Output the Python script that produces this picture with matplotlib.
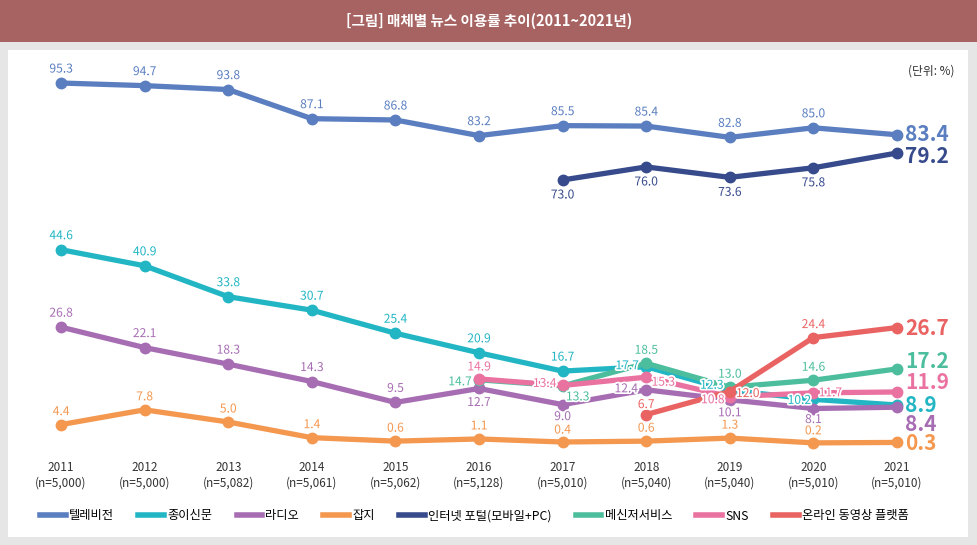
import matplotlib.pyplot as plt
import matplotlib.patheffects as pe
from matplotlib.lines import Line2D
from matplotlib.patches import Rectangle

plt.rcParams['font.family'] = ['Noto Sans CJK KR', 'DejaVu Sans']

# --- data (%, 매체별 뉴스 이용률) ---
years = [2011, 2012, 2013, 2014, 2015, 2016, 2017, 2018, 2019, 2020, 2021]
sample_n = ['5,000', '5,000', '5,082', '5,061', '5,062', '5,128',
            '5,010', '5,040', '5,040', '5,010', '5,010']

tv = [95.3, 94.7, 93.8, 87.1, 86.8, 83.2, 85.5, 85.4, 82.8, 85.0, 83.4]
newspaper = [44.6, 40.9, 33.8, 30.7, 25.4, 20.9, 16.7, 17.7, 12.3, 10.2, 8.9]
radio = [26.8, 22.1, 18.3, 14.3, 9.5, 12.7, 9.0, 12.4, 10.1, 8.1, 8.4]
magazine = [4.4, 7.8, 5.0, 1.4, 0.6, 1.1, 0.4, 0.6, 1.3, 0.2, 0.3]

portal_years = [2017, 2018, 2019, 2020, 2021]
portal = [73.0, 76.0, 73.6, 75.8, 79.2]

messenger_years = [2016, 2017, 2018, 2019, 2020, 2021]
messenger = [14.7, 13.3, 18.5, 13.0, 14.6, 17.2]
sns = [14.9, 13.4, 15.3, 10.8, 11.7, 11.9]

video_years = [2018, 2019, 2020, 2021]
video = [6.7, 12.0, 24.4, 26.7]

# name, x, y, colour, panel, default label offset (px), special offsets, last label dy
series = [
    ('텔레비전', years, tv, '#5A7EC0', 'top', (0, 14), {}, 0),
    ('종이신문', years, newspaper, '#22B6C4', 'bot', (0, 14),
     {2018: (-19, 1), 2019: (-18, 5), 2020: (-14, -1)}, 0),
    ('라디오', years, radio, '#A76DB3', 'bot', (0, 14),
     {2016: (0, -14), 2017: (0, -12), 2018: (-20, 1), 2019: (0, -13), 2020: (0, -11)}, -17),
    ('잡지', years, magazine, '#F4974F', 'bot', (0, 13), {2017: (0, 12), 2020: (0, 12)}, -1),
    ('인터넷 포털(모바일+PC)', portal_years, portal, '#364A8C', 'top', (0, -15), {}, -3),
    ('메신저서비스', messenger_years, messenger, '#4DBE9D', 'bot', (0, 13),
     {2016: (-19, -2), 2017: (15, -11)}, 7),
    ('SNS', messenger_years, sns, '#EA72A0', 'bot', (0, 12),
     {2017: (-18, 2), 2018: (17, -5), 2019: (-17, -3), 2020: (17, 0)}, 9),
    ('온라인 동영상 플랫폼', video_years, video, '#EA6363', 'bot', (0, 10),
     {2019: (18, -2), 2020: (0, 13)}, -1),
]

fig = plt.figure(figsize=(9.78, 5.45), dpi=100, facecolor='#E6E6E6')
H = 545.0
W = 978.0

# header band and white panel
fig.add_artist(Rectangle((0, 1 - 42 / H), 1, 42 / H, transform=fig.transFigure,
                         facecolor='#A66361', edgecolor='none', zorder=0))
fig.add_artist(Rectangle((8 / W, 8 / H), 960 / W, 487 / H, transform=fig.transFigure,
                         facecolor='white', edgecolor='none', zorder=0))
fig.text(0.5, 1 - 21 / H, '[그림] 매체별 뉴스 이용률 추이(2011~2021년)', color='white',
         ha='center', va='center', fontsize=10.5, fontweight='bold')
fig.text(955 / W, 1 - 71 / H, '(단위: %)', ha='right', va='center', fontsize=8.5, color='#333333')

# broken value axis: top panel for TV / portal, bottom panel for the rest
left = 27.6 / W
width = 902.8 / W
ax_top = fig.add_axes([left, 1 - 193 / H, width, (193 - 71.3) / H])
ax_bot = fig.add_axes([left, 1 - 456.8 / H, width, (456.8 - 226.2) / H])
ax_top.set_ylim(70, 98)
ax_bot.set_ylim(-3, 50)
for ax in (ax_top, ax_bot):
    ax.set_xlim(2010.6, 2021.4)
    ax.set_facecolor('none')
    for s in ax.spines.values():
        s.set_visible(False)
    ax.set_yticks([])
ax_top.set_xticks([])
ax_bot.set_xticks(years)
ax_bot.set_xticklabels([f'{y}\n(n={n})' for y, n in zip(years, sample_n)],
                       fontsize=8.5, color='#333333', linespacing=1.3)
ax_bot.tick_params(axis='x', length=0, pad=3)

halo = [pe.withStroke(linewidth=2.5, foreground='white')]
handles = []
for name, xs, ys, color, panel, off, special, last_dy in series:
    ax = ax_top if panel == 'top' else ax_bot
    ax.plot(xs, ys, color=color, lw=3.8, marker='o', ms=7.5, solid_capstyle='round',
            clip_on=False, zorder=3)
    for x, v in zip(xs[:-1], ys[:-1]):
        dx, dy = special.get(x, off)
        ax.annotate(f'{v:.1f}', (x, v), xytext=(dx, dy), textcoords='offset pixels',
                    ha='center', va='center', fontsize=8.7, color=color,
                    path_effects=halo, zorder=5, annotation_clip=False)
    ax.annotate(f'{ys[-1]:.1f}', (xs[-1], ys[-1]), xytext=(8, last_dy),
                textcoords='offset pixels', ha='left', va='center', fontsize=15,
                fontweight='bold', color=color, zorder=6, annotation_clip=False)
    handles.append(Line2D([], [], color=color, lw=4))

fig.legend(handles, [s[0] for s in series], loc='center', bbox_to_anchor=(0.485, 1 - 516 / H),
           ncol=8, frameon=False, fontsize=8.8, handlelength=2.1, handletextpad=0.25,
           columnspacing=2.0)

fig.savefig('out.png', dpi=100, facecolor=fig.get_facecolor())
